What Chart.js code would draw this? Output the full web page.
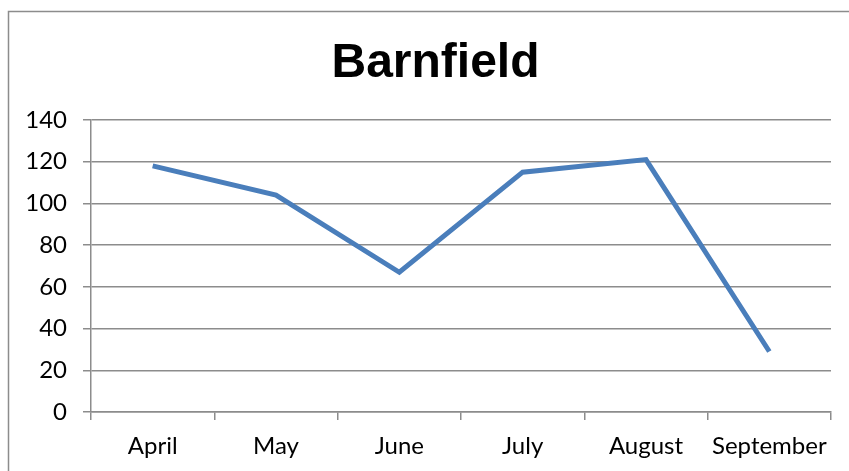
<!DOCTYPE html>
<html>
<head>
<meta charset="utf-8">
<script src="https://cdn.jsdelivr.net/npm/chart.js@4/dist/chart.umd.min.js"></script>
<style>
html,body{margin:0;padding:0;background:#fff;}
#wrap{position:relative;width:849px;height:471px;}
</style>
</head>
<body>
<div id="wrap"><canvas id="c" width="849" height="471"></canvas></div>
<script>
const titleText = "Barnfield";
const categories = ["April", "May", "June", "July", "August", "September"];
const values = [118, 104, 67, 115, 121, 29];
const yMin = 0, yMax = 140, yStep = 20;

const frame = {
  id: 'frame',
  beforeDraw(chart) {
    const ctx = chart.ctx;
    ctx.save();
    ctx.fillStyle = '#fff';
    ctx.fillRect(0, 0, chart.width, chart.height);
    ctx.strokeStyle = '#8c8c8c';
    ctx.lineWidth = 1.5;
    ctx.strokeRect(8.5, 11.5, chart.width + 20, chart.height + 20);
    ctx.restore();
  },
  afterLayout(chart) {
    if (chart.titleBlock) { chart.titleBlock.left += 30; }
  }
};

const tickFont = { family: "Lato, 'Open Sans', sans-serif", size: 24 };
const gridColor = '#8c8c8c';

new Chart(document.getElementById('c'), {
  type: 'line',
  data: {
    labels: categories,
    datasets: [{
      data: values,
      borderColor: '#4a7ebb',
      borderWidth: 5,
      pointRadius: 0,
      tension: 0,
      fill: false
    }]
  },
  options: {
    responsive: false,
    animation: false,
    layout: { padding: { left: 10, right: 18, top: 11, bottom: 0 } },
    plugins: {
      legend: { display: false },
      tooltip: { enabled: false },
      title: {
        display: true,
        text: titleText,
        color: '#000',
        font: { family: "'Liberation Sans', Arial, sans-serif", size: 48, weight: 'bold', lineHeight: 1.2 },
        padding: { top: 24, bottom: 27.4 }
      }
    },
    scales: {
      x: {
        offset: true,
        grid: { offset: true, drawOnChartArea: false, drawTicks: true, tickLength: 8, color: gridColor, lineWidth: 1.5 },
        border: { color: gridColor, width: 1.5 },
        ticks: { color: '#000', font: tickFont, padding: 12, maxRotation: 0, autoSkip: false },
        afterFit(s) { s.height = 59; }
      },
      y: {
        min: yMin, max: yMax,
        grid: { color: gridColor, lineWidth: 1.5, tickLength: 8 },
        border: { color: gridColor, width: 1.5 },
        ticks: { stepSize: yStep, color: '#000', font: tickFont, padding: 16 },
        afterFit(s) { s.width = 81; }
      }
    }
  },
  plugins: [frame]
});
</script>
</body>
</html>
